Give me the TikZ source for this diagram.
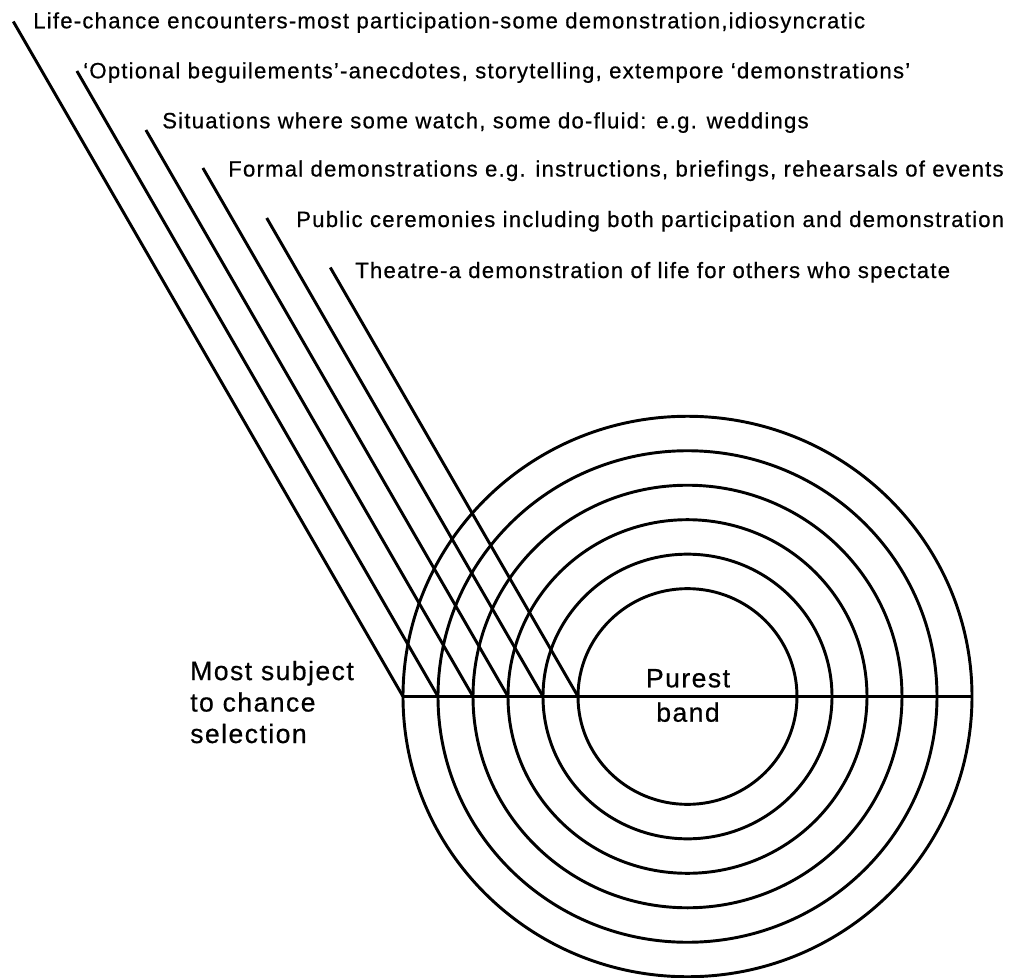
\documentclass[tikz,border=0pt]{standalone}
\usepackage{fontspec}
\setmainfont{Liberation Sans}
\newfontfamily\trackedsans[LetterSpace=5.5,FakeBold=0.6]{Liberation Sans}
\begin{document}
\begin{tikzpicture}[x=0.75pt,y=-0.75pt,
  rule/.style={line width=2.2pt},
  ring/.style={line width=2.2pt},
  caption/.style={anchor=base west, inner sep=0pt,
    font=\trackedsans\fontsize{16.6pt}{19pt}\selectfont},
  bandlabel/.style={inner sep=0pt,
    font=\trackedsans\fontsize{19.9pt}{25.8pt}\selectfont}]
\useasboundingbox (0,0) rectangle (1015,978);

% centre of the concentric bands
\coordinate (c) at (687.5,696.5);

% six concentric bands
\foreach \r in {109.5,144.5,179.5,214.5,249.5,284.5}
  \draw[ring] (c) ellipse [x radius=\r, y radius=0.985*\r];

% where each slanted line meets the diameter
\coordinate (b1) at (403,696.5);
\coordinate (b2) at (438,696.5);
\coordinate (b3) at (473,696.5);
\coordinate (b4) at (508,696.5);
\coordinate (b5) at (543,696.5);
\coordinate (b6) at (578,696.5);
\coordinate (e)  at (972,696.5);

% upper ends of the slanted lines (all at 60 degrees)
\coordinate (t1) at (13.3,21.5);
\coordinate (t2) at (76.9,71);
\coordinate (t3) at (145.9,130);
\coordinate (t4) at (202.9,168);
\coordinate (t5) at (266.7,218);
\coordinate (t6) at (330.3,267.5);

\foreach \i in {1,...,6}
  \draw[rule] (t\i) -- (b\i);
\draw[rule] (b1) -- (e);

% captions of the lines
\node[caption] (l1) at (33,28.3) {Life-chance encounters-most participation-some demonstration,idiosyncratic};
\node[caption] (l2) at (83,78.3) {‘Optional beguilements’-anecdotes, storytelling, extempore ‘demonstrations’};
\node[caption] (l3) at (162,128.3) {Situations where some watch, some do-fluid: e.g. weddings};
\node[caption] (l4) at (228,176.5) {Formal demonstrations e.g. instructions, briefings, rehearsals of events};
\node[caption] (l5) at (296,227) {Public ceremonies including both participation and demonstration};
\node[caption] (l6) at (355,278) {Theatre-a demonstration of life for others who spectate};

% labels of the two extremes
\node[bandlabel, font=\trackedsans\fontsize{19.9pt}{23.6pt}\selectfont,
      align=left, anchor=base west] (chance) at (190,743)
  {Most subject\\to chance\\selection};
\node[bandlabel, align=center, anchor=base] (purest) at (688,721.7)
  {Purest\\band};
\end{tikzpicture}
\end{document}
